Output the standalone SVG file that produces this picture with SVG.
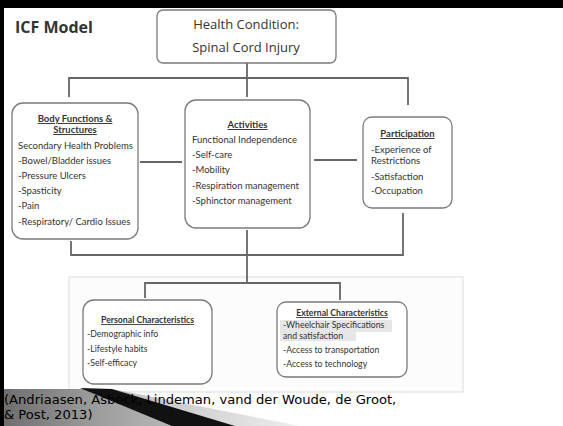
<svg xmlns="http://www.w3.org/2000/svg" width="563" height="426" viewBox="0 0 563 426">
<defs>
<linearGradient id="gw" x1="0" y1="0" x2="1" y2="0">
<stop offset="0" stop-color="#6e6e6e"/>
<stop offset="0.5" stop-color="#9a9a9a"/>
<stop offset="1" stop-color="#b8b8b8"/>
</linearGradient>
<linearGradient id="gt" x1="0" y1="0" x2="1" y2="0">
<stop offset="0" stop-color="#bdbdbd"/>
<stop offset="1" stop-color="#eeeeee"/>
</linearGradient>
</defs>
<style>
.box{fill:#fff;stroke:#7a7a7a;stroke-width:1.3}
.con{stroke:#666;stroke-width:1.8;fill:none}
.t{font-family:Lato,"Liberation Sans",sans-serif;fill:#333;font-size:9.5px}
.s{font-size:8.7px}
.h{font-weight:bold;text-decoration:underline;text-anchor:middle}
.hc{font-family:"Open Sans","Liberation Sans",sans-serif;font-size:13px;fill:#333;text-anchor:middle}
.cit{font-family:"DejaVu Sans",sans-serif;font-size:13.1px;fill:#000}
</style>
<rect width="563" height="426" fill="#fff"/>
<rect x="0" y="0" width="563" height="8" fill="#000"/>
<rect x="0" y="0" width="4" height="426" fill="#000"/>
<text x="15" y="33" font-family="Open Sans, Liberation Sans, sans-serif" font-weight="bold" font-size="16" fill="#333">ICF Model</text>
<rect x="69" y="277" width="394" height="115" fill="#fcfcfc" stroke="#dcdcdc" stroke-width="1"/>
<g id="connectors">
<polyline class="con" points="247,63 247,97"/>
<polyline class="con" points="69,97 69,78 408,78 408,105"/>
<line class="con" x1="140" y1="162" x2="182" y2="162"/>
<line class="con" x1="314" y1="160" x2="357" y2="160"/>
<polyline class="con" points="71,241 71,255 403,255 403,213"/>
<line class="con" x1="247" y1="230" x2="247" y2="283"/>
<polyline class="con" points="145,298 145,283 340,283 340,300"/>
</g>
<g id="health">
<rect class="box" x="157" y="10" width="179" height="53" rx="6"/>
<text class="hc" x="246" y="29">Health Condition:</text>
<text class="hc" x="246" y="52">Spinal Cord Injury</text>
</g>
<g id="body">
<rect class="box" x="12" y="103" width="126" height="136" rx="11"/>
<text class="t h" x="75" y="122">Body Functions &amp;</text>
<text class="t h" x="75" y="133">Structures</text>
<text class="t" x="18" y="149">Secondary Health Problems</text>
<text class="t" x="18" y="164">-Bowel/Bladder issues</text>
<text class="t" x="18" y="179">-Pressure Ulcers</text>
<text class="t" x="18" y="194">-Spasticity</text>
<text class="t" x="18" y="209">-Pain</text>
<text class="t" x="18" y="225">-Respiratory/ Cardio Issues</text>
</g>
<g id="activities">
<rect class="box" x="185" y="100" width="125" height="128" rx="11"/>
<text class="t h" x="247.5" y="128">Activities</text>
<text class="t" x="192" y="143">Functional Independence</text>
<text class="t" x="192" y="158">-Self-care</text>
<text class="t" x="192" y="173">-Mobility</text>
<text class="t" x="192" y="189">-Respiration management</text>
<text class="t" x="192" y="204">-Sphinctor management</text>
</g>
<g id="participation">
<rect class="box" x="363" y="117" width="89" height="91" rx="9"/>
<text class="t h" x="407.5" y="137">Participation</text>
<text class="t" x="371" y="153">-Experience of</text>
<text class="t" x="371" y="164">Restrictions</text>
<text class="t" x="371" y="180">-Satisfaction</text>
<text class="t" x="371" y="194">-Occupation</text>
</g>
<g id="personal">
<rect class="box" x="83" y="300" width="129" height="84" rx="11"/>
<text class="t s h" x="147.5" y="323">Personal Characteristics</text>
<text class="t s" x="87" y="337">-Demographic info</text>
<text class="t s" x="87" y="352">-Lifestyle habits</text>
<text class="t s" x="87" y="366">-Self-efficacy</text>
</g>
<g id="external">
<rect class="box" x="277" y="302" width="130" height="75" rx="9"/>
<rect x="280" y="320" width="112" height="12" fill="#e6e6e6"/>
<rect x="280" y="332" width="76" height="9" fill="#e6e6e6"/>
<text class="t s h" x="342" y="316">External Characteristics</text>
<text class="t s" x="283" y="328">-Wheelchair Specifications</text>
<text class="t s" x="283" y="339">and satisfaction</text>
<text class="t s" x="283" y="353">-Access to transportation</text>
<text class="t s" x="283" y="367">-Access to technology</text>
</g>
<g id="swoosh">
<polygon points="4,389 86,389 176,426 4,426" fill="url(#gw)"/>
<polygon points="112,389 300,426 232,426" fill="url(#gt)"/>
<polygon points="80,388 112,389 235,426 172,426" fill="#111"/>
</g>
<text class="cit" x="4" y="404">(Andriaasen, Asbeck, Lindeman, vand der Woude, de Groot,</text>
<text class="cit" x="4" y="419">&amp; Post, 2013)</text>
</svg>
